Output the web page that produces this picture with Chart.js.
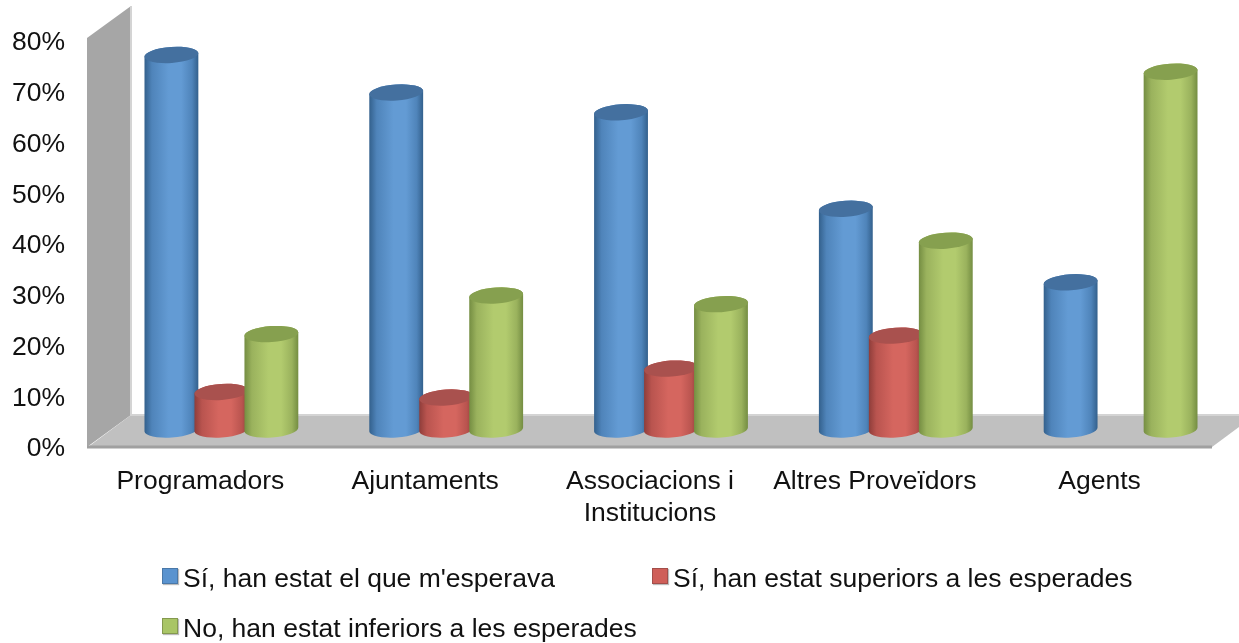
<!DOCTYPE html>
<html>
<head>
<meta charset="utf-8">
<script src="https://cdn.jsdelivr.net/npm/chart.js@4"></script>
<style>
  html, body { margin: 0; background: #fff; }
  #wrap { position: relative; width: 1239px; height: 643px; overflow: hidden; }
  .item { position: absolute; font: 26.5px "Liberation Sans", Arial, sans-serif; color: #111; white-space: nowrap; line-height: 30px; }
  .item i { position: absolute; left: -21px; top: 5px; width: 14px; height: 14px; border: 1px solid; box-sizing: content-box; box-shadow: 1px 1px 1px #bbb; }
</style>
</head>
<body>
<div id="wrap">
  <canvas id="chart" width="1239" height="643"></canvas>
  <div id="legend"></div>
</div>
<script>
const categories = ["Programadors", "Ajuntaments", ["Associacions i", "Institucions"], "Altres Proveïdors", "Agents"];
const seriesNames = ["Sí, han estat el que m'esperava", "Sí, han estat superiors a les esperades", "No, han estat inferiors a les esperades"];
const asExpected = [73.8, 66.4, 62.5, 43.5, 29];
const higher = [7.4, 6.3, 12, 18.5, null];
const lower = [18.8, 26.4, 24.7, 37.2, 70.5];
const yTicks = [0, 10, 20, 30, 40, 50, 60, 70, 80];

// edge, side, centre, top of each cylinder
const shades = [
  { edge: "#33608c", side: "#4f84ba", mid: "#639bd4", top: "#44709f", swatch: "#5a93cf", line: "#4a78a8" },
  { edge: "#8e3d3a", side: "#b9544f", mid: "#d5665f", top: "#a9514e", swatch: "#cf5f59", line: "#a34e4a" },
  { edge: "#748d42", side: "#9ab25d", mid: "#b2cb6e", top: "#86a04f", swatch: "#a9c566", line: "#84994f" }
];

// depth of the 3D box, and where the cylinders sit in it
const depthX = 43, depthY = -32;
const barShiftX = 21, barShiftY = -17.5;

function polygon(ctx, points, color) {
  ctx.fillStyle = color;
  ctx.beginPath();
  points.forEach(p => ctx.lineTo(p[0], p[1]));
  ctx.closePath();
  ctx.fill();
}

function drawCylinder(ctx, bar, shade) {
  const rx = bar.width / 2, ry = 8, tilt = -0.07;
  const cx = bar.x + barShiftX;
  const top = bar.y + barShiftY, base = bar.base + barShiftY;

  const grad = ctx.createLinearGradient(cx - rx, 0, cx + rx, 0);
  grad.addColorStop(0, shade.edge);
  grad.addColorStop(0.14, shade.side);
  grad.addColorStop(0.45, shade.mid);
  grad.addColorStop(0.68, shade.mid);
  grad.addColorStop(0.88, shade.side);
  grad.addColorStop(1, shade.edge);

  ctx.fillStyle = grad;
  ctx.beginPath();
  ctx.ellipse(cx, base, rx, ry, tilt, 0, Math.PI);
  ctx.ellipse(cx, top, rx, ry, tilt, Math.PI, Math.PI * 2);
  ctx.closePath();
  ctx.fill();

  ctx.fillStyle = shade.top;
  ctx.beginPath();
  ctx.ellipse(cx, top, rx, ry, tilt, 0, Math.PI * 2);
  ctx.fill();
}

const box3d = {
  id: "box3d",
  beforeDatasetsDraw(chart) {
    const { ctx, scales: { x, y } } = chart;
    const left = x.left, right = x.right, floor = y.getPixelForValue(0), roof = y.getPixelForValue(80) - 3;
    ctx.save();
    polygon(ctx, [[left - 1, roof], [left + depthX, roof + depthY], [left + depthX, floor + depthY], [left - 1, floor]], "#a6a6a6");
    polygon(ctx, [[left, floor], [right, floor], [right + depthX, floor + depthY], [left + depthX, floor + depthY]], "#c0c0c0");
    ctx.strokeStyle = "#d4d4d4";
    ctx.lineWidth = 2;
    ctx.beginPath();
    ctx.moveTo(left + depthX, roof + depthY);
    ctx.lineTo(left + depthX, floor + depthY);
    ctx.lineTo(right + depthX, floor + depthY);
    ctx.stroke();
    ctx.strokeStyle = "#a0a0a0";
    ctx.lineWidth = 3;
    ctx.beginPath();
    ctx.moveTo(left - 1, floor);
    ctx.lineTo(right, floor);
    ctx.stroke();
    ctx.restore();
  },
  // the library's flat bars are skipped, cylinders go on top in series order
  beforeDatasetDraw() { return false; },
  afterDatasetsDraw(chart) {
    const ctx = chart.ctx;
    ctx.save();
    chart.data.datasets.forEach((ds, i) => {
      chart.getDatasetMeta(i).data.forEach((bar, j) => {
        if (ds.data[j] !== null) drawCylinder(ctx, bar, shades[i]);
      });
    });
    ctx.restore();
  }
};

const font = { family: '"Liberation Sans", Arial, sans-serif', size: 26.5 };

new Chart(document.getElementById("chart"), {
  type: "bar",
  data: {
    labels: categories,
    datasets: [asExpected, higher, lower].map((values, i) => ({
      label: seriesNames[i],
      data: values,
      backgroundColor: shades[i].swatch,
      categoryPercentage: 0.667,
      barPercentage: 1.08
    }))
  },
  options: {
    responsive: false,
    animation: false,
    layout: { padding: { top: 41, right: 27 } },
    plugins: { legend: { display: false }, tooltip: { enabled: false } },
    scales: {
      x: {
        grid: { display: false },
        border: { display: false },
        afterFit(scale) { scale.height = 196; },
        ticks: { color: "#111", font: { ...font, lineHeight: 1.21 }, padding: 11, autoSkip: false, maxRotation: 0 }
      },
      y: {
        min: 0,
        max: 80,
        grid: { display: false },
        border: { display: false },
        afterFit(scale) { scale.width = 88; },
        afterBuildTicks(scale) { scale.ticks = yTicks.map(v => ({ value: v })); },
        ticks: { color: "#111", font, padding: 15, labelOffset: 2, callback: v => v + "%" }
      }
    }
  },
  plugins: [box3d]
});

// two-row legend laid out like the original
const legendSpots = [[183, 563], [673, 563], [183, 613]];
seriesNames.forEach((name, i) => {
  const item = document.createElement("div");
  item.className = "item";
  item.style.left = legendSpots[i][0] + "px";
  item.style.top = legendSpots[i][1] + "px";
  item.innerHTML = '<i style="background:' + shades[i].swatch + ';border-color:' + shades[i].line + '"></i>';
  item.appendChild(document.createTextNode(name));
  document.getElementById("legend").appendChild(item);
});
</script>
</body>
</html>
